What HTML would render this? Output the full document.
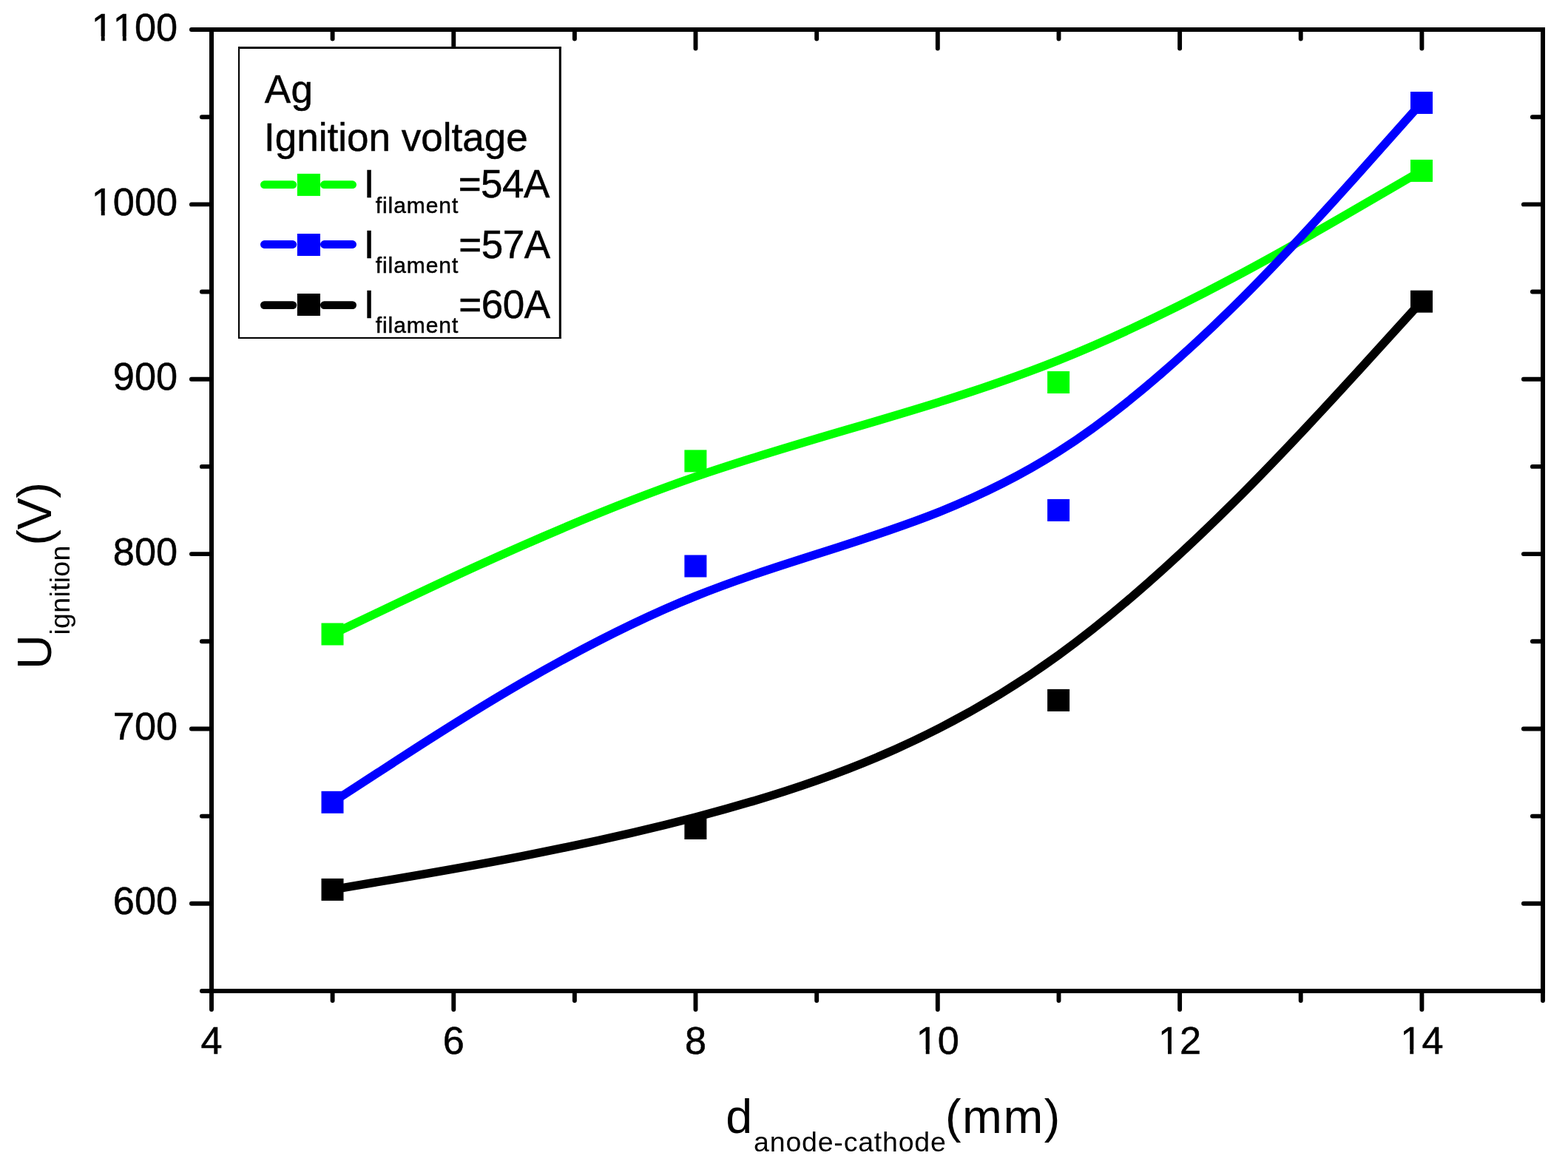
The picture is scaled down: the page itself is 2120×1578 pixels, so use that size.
<!DOCTYPE html><html><head><meta charset="utf-8"><style>html,body{margin:0;padding:0;background:#fff;}svg{display:block;}text{font-family:"Liberation Sans",Arial,sans-serif;fill:#000;font-kerning:none;font-feature-settings:"kern" 0,"liga" 0;font-variant-ligatures:none;}.sk text{stroke:#000;stroke-width:0.5px;}</style></head><body>
<svg width="2120" height="1578" viewBox="0 0 2120 1578">
<rect width="100%" height="100%" fill="#fff"/>
<path d="M449.50,857.50 C449.50,857.50 449.50,857.50 531.32,818.48 C613.13,779.47 776.77,701.43 940.37,644.68 C1103.97,587.93 1267.53,552.47 1431.13,487.05 C1594.73,421.63 1758.37,326.27 1840.18,278.58 C1922.00,230.90 1922.00,230.90 1922.00,230.90" fill="none" stroke="#00ff00" stroke-width="11.5" stroke-linejoin="round"/>
<rect x="434.5" y="842.5" width="30" height="30" fill="#00ff00"/>
<rect x="925.4" y="608.4" width="30" height="30" fill="#00ff00"/>
<rect x="1416.1" y="502.0" width="30" height="30" fill="#00ff00"/>
<rect x="1907.0" y="215.9" width="30" height="30" fill="#00ff00"/>
<path d="M449.50,1084.80 C449.50,1084.80 449.50,1084.80 531.32,1031.58 C613.13,978.37 776.77,871.93 940.37,806.12 C1103.97,740.30 1267.53,715.10 1431.13,610.68 C1594.73,506.27 1758.37,322.63 1840.18,230.82 C1922.00,139.00 1922.00,139.00 1922.00,139.00" fill="none" stroke="#0000ff" stroke-width="11.5" stroke-linejoin="round"/>
<rect x="434.5" y="1069.8" width="30" height="30" fill="#0000ff"/>
<rect x="925.4" y="750.5" width="30" height="30" fill="#0000ff"/>
<rect x="1416.1" y="674.9" width="30" height="30" fill="#0000ff"/>
<rect x="1907.0" y="124.0" width="30" height="30" fill="#0000ff"/>
<path d="M449.50,1202.90 C449.50,1202.90 449.50,1202.90 531.32,1189.08 C613.13,1175.27 776.77,1147.63 940.37,1104.97 C1103.97,1062.30 1267.53,1004.60 1431.13,885.88 C1594.73,767.17 1758.37,587.43 1840.18,497.57 C1922.00,407.70 1922.00,407.70 1922.00,407.70" fill="none" stroke="#000000" stroke-width="11.5" stroke-linejoin="round"/>
<rect x="434.5" y="1187.9" width="30" height="30" fill="#000000"/>
<rect x="925.4" y="1105.0" width="30" height="30" fill="#000000"/>
<rect x="1416.1" y="931.9" width="30" height="30" fill="#000000"/>
<rect x="1907.0" y="392.7" width="30" height="30" fill="#000000"/>
<g stroke="#000" stroke-width="5.9" stroke-linecap="round" fill="none">
<line x1="286" y1="1340.0" x2="272.9" y2="1340.0"/>
<line x1="2086" y1="1340.0" x2="2071.9" y2="1340.0"/>
<line x1="286" y1="1221.8" x2="258.9" y2="1221.8"/>
<line x1="2086" y1="1221.8" x2="2059.9" y2="1221.8"/>
<line x1="286" y1="1103.6" x2="272.9" y2="1103.6"/>
<line x1="2086" y1="1103.6" x2="2071.9" y2="1103.6"/>
<line x1="286" y1="985.5" x2="258.9" y2="985.5"/>
<line x1="2086" y1="985.5" x2="2059.9" y2="985.5"/>
<line x1="286" y1="867.3" x2="272.9" y2="867.3"/>
<line x1="2086" y1="867.3" x2="2071.9" y2="867.3"/>
<line x1="286" y1="749.1" x2="258.9" y2="749.1"/>
<line x1="2086" y1="749.1" x2="2059.9" y2="749.1"/>
<line x1="286" y1="630.9" x2="272.9" y2="630.9"/>
<line x1="2086" y1="630.9" x2="2071.9" y2="630.9"/>
<line x1="286" y1="512.7" x2="258.9" y2="512.7"/>
<line x1="2086" y1="512.7" x2="2059.9" y2="512.7"/>
<line x1="286" y1="394.5" x2="272.9" y2="394.5"/>
<line x1="2086" y1="394.5" x2="2071.9" y2="394.5"/>
<line x1="286" y1="276.4" x2="258.9" y2="276.4"/>
<line x1="2086" y1="276.4" x2="2059.9" y2="276.4"/>
<line x1="286" y1="158.2" x2="272.9" y2="158.2"/>
<line x1="2086" y1="158.2" x2="2071.9" y2="158.2"/>
<line x1="286" y1="40.0" x2="258.9" y2="40.0"/>
<line x1="2086" y1="40.0" x2="2059.9" y2="40.0"/>
<line x1="286.0" y1="1340" x2="286.0" y2="1365.1"/>
<line x1="286.0" y1="40" x2="286.0" y2="65.6"/>
<line x1="449.6" y1="1340" x2="449.6" y2="1353.1"/>
<line x1="449.6" y1="40" x2="449.6" y2="52.6"/>
<line x1="613.3" y1="1340" x2="613.3" y2="1365.1"/>
<line x1="613.3" y1="40" x2="613.3" y2="65.6"/>
<line x1="776.9" y1="1340" x2="776.9" y2="1353.1"/>
<line x1="776.9" y1="40" x2="776.9" y2="52.6"/>
<line x1="940.5" y1="1340" x2="940.5" y2="1365.1"/>
<line x1="940.5" y1="40" x2="940.5" y2="65.6"/>
<line x1="1104.2" y1="1340" x2="1104.2" y2="1353.1"/>
<line x1="1104.2" y1="40" x2="1104.2" y2="52.6"/>
<line x1="1267.8" y1="1340" x2="1267.8" y2="1365.1"/>
<line x1="1267.8" y1="40" x2="1267.8" y2="65.6"/>
<line x1="1431.5" y1="1340" x2="1431.5" y2="1353.1"/>
<line x1="1431.5" y1="40" x2="1431.5" y2="52.6"/>
<line x1="1595.1" y1="1340" x2="1595.1" y2="1365.1"/>
<line x1="1595.1" y1="40" x2="1595.1" y2="65.6"/>
<line x1="1758.7" y1="1340" x2="1758.7" y2="1353.1"/>
<line x1="1758.7" y1="40" x2="1758.7" y2="52.6"/>
<line x1="1922.4" y1="1340" x2="1922.4" y2="1365.1"/>
<line x1="1922.4" y1="40" x2="1922.4" y2="65.6"/>
<line x1="2086.0" y1="1340" x2="2086.0" y2="1353.1"/>
<line x1="2086.0" y1="40" x2="2086.0" y2="52.6"/>
</g>
<rect x="286" y="40" width="1800" height="1300" fill="none" stroke="#000" stroke-width="6.0" stroke-linejoin="miter"/>
<g class="sk" font-size="52.3" text-anchor="end">
<text x="240.1" y="1236.4">600</text>
<text x="240.1" y="1000.1">700</text>
<text x="240.1" y="763.7">800</text>
<text x="240.1" y="527.3">900</text>
<text x="240.1" y="291.0">1000</text>
<text x="240.1" y="54.6">1100</text>
</g>
<g class="sk" font-size="52.3" text-anchor="middle">
<text x="286.0" y="1424.8">4</text>
<text x="613.3" y="1424.8">6</text>
<text x="940.5" y="1424.8">8</text>
<text x="1267.8" y="1424.8">10</text>
<text x="1595.1" y="1424.8">12</text>
<text x="1922.4" y="1424.8">14</text>
</g>
<g fill="#fff"><rect x="126.37" y="285.46" width="10.39" height="8.01"/><rect x="141.68" y="285.46" width="9.80" height="8.01"/><rect x="126.37" y="49.09" width="10.39" height="8.01"/><rect x="141.68" y="49.09" width="9.80" height="8.01"/><rect x="155.45" y="49.09" width="10.39" height="8.01"/><rect x="170.76" y="49.09" width="9.80" height="8.01"/><rect x="1241.35" y="1419.29" width="10.39" height="8.01"/><rect x="1256.66" y="1419.29" width="9.80" height="8.01"/><rect x="1568.62" y="1419.29" width="10.39" height="8.01"/><rect x="1583.93" y="1419.29" width="9.80" height="8.01"/><rect x="1895.89" y="1419.29" width="10.39" height="8.01"/><rect x="1911.20" y="1419.29" width="9.80" height="8.01"/></g>
<rect x="322" y="63.1" width="436.9" height="394.9" fill="#fff"/>
<g fill="#000"><rect x="322" y="63.1" width="436.9" height="2.9"/><rect x="322" y="455.9" width="436.9" height="2.1"/><rect x="322" y="63.1" width="2.1" height="394.9"/><rect x="755.8" y="63.1" width="3.1" height="394.9"/></g>
<g class="sk">
<text x="357.80" y="139.20" font-size="53" letter-spacing="0.293">Ag</text>
<text x="357.01" y="203.90" font-size="53" letter-spacing="0.014">Ignition voltage</text>
<g stroke="#00ff00" stroke-width="10.8" stroke-linecap="round"><line x1="357.4" y1="249.7" x2="395.8" y2="249.7"/><line x1="438.4" y1="249.7" x2="476.6" y2="249.7"/></g>
<rect x="401.9" y="234.9" width="31.1" height="30" fill="#00ff00"/>
<text x="491.81" y="267.00" font-size="53" letter-spacing="0.000">I</text>
<text x="507.78" y="288.00" font-size="30" letter-spacing="0.929">filament</text>
<text x="619.71" y="267.00" font-size="53" letter-spacing="-0.554">=54A</text>
<g stroke="#0000ff" stroke-width="10.8" stroke-linecap="round"><line x1="357.4" y1="330.5" x2="395.8" y2="330.5"/><line x1="438.4" y1="330.5" x2="476.6" y2="330.5"/></g>
<rect x="401.9" y="316.0" width="31.1" height="30" fill="#0000ff"/>
<text x="491.81" y="348.90" font-size="53" letter-spacing="0.000">I</text>
<text x="507.78" y="368.90" font-size="30" letter-spacing="0.929">filament</text>
<text x="620.31" y="348.90" font-size="53" letter-spacing="-0.521">=57A</text>
<g stroke="#000000" stroke-width="10.8" stroke-linecap="round"><line x1="357.4" y1="412.6" x2="395.8" y2="412.6"/><line x1="438.4" y1="412.6" x2="476.6" y2="412.6"/></g>
<rect x="401.9" y="397.0" width="31.1" height="30" fill="#000000"/>
<text x="491.81" y="430.10" font-size="53" letter-spacing="0.000">I</text>
<text x="507.78" y="450.20" font-size="30" letter-spacing="0.929">filament</text>
<text x="620.31" y="430.10" font-size="53" letter-spacing="-0.521">=60A</text>
</g>
<text transform="rotate(-90)" x="-904.88" y="69.00" font-size="64.6" letter-spacing="0.000">U</text>
<text transform="rotate(-90)" x="-858.51" y="94.10" font-size="37.5" letter-spacing="0.287">ignition</text>
<text transform="rotate(-90)" x="-737.61" y="69.00" font-size="64.6" letter-spacing="-0.250">(V)</text>
<text x="981.19" y="1532.00" font-size="64.6" letter-spacing="0.000">d</text>
<text x="1019.11" y="1556.70" font-size="37.5" letter-spacing="0.795">anode-cathode</text>
<text x="1277.99" y="1532.00" font-size="64.6" letter-spacing="1.588">(mm)</text>
</svg></body></html>
